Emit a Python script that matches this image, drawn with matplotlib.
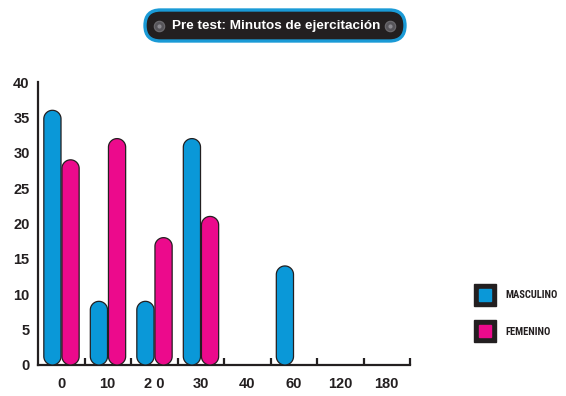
import matplotlib
matplotlib.use("Agg")
import matplotlib.pyplot as plt
from matplotlib.patches import FancyBboxPatch, Polygon
from matplotlib.lines import Line2D
import numpy as np

categories = ["0", "10", "2 0", "30", "40", "60", "120", "180"]
masculino = [36, 9, 9, 32, 0, 14, 0, 0]
femenino = [29, 32, 18, 21, 0, 0, 0, 0]
yticks = [0, 5, 10, 15, 20, 25, 30, 35, 40]
title = "Pre test: Minutos de ejercitación"
series_names = ["MASCULINO", "FEMENINO"]

BLUE = "#0a98d8"
PINK = "#ec0a8c"
DARK = "#231f20"

W, H = 566, 396
fig = plt.figure(figsize=(W / 100, H / 100), dpi=100)
fig.patch.set_facecolor("white")

ax_l, ax_r, ax_t, ax_b = 38, 410, 82, 365
ax = fig.add_axes([ax_l / W, 1 - ax_b / H, (ax_r - ax_l) / W, (ax_b - ax_t) / H])
ax.set_xlim(0, len(categories))
ax.set_ylim(0, 40)

px_x = (ax_r - ax_l) / len(categories)
px_y = (ax_b - ax_t) / 40.0
aspect = px_x / px_y

x = np.arange(len(categories))
bw = 0.37
b1 = ax.bar(x + 0.31, masculino, width=bw, color=BLUE)
b2 = ax.bar(x + 0.70, femenino, width=bw, color=PINK)


def pill(rect, col):
    x0, y0 = rect.get_x(), rect.get_y()
    w, h = rect.get_width(), rect.get_height()
    rx = w / 2.0
    ry = rx * aspect
    cx = x0 + rx
    t_top = np.linspace(0, np.pi, 40)
    t_bot = np.linspace(np.pi, 2 * np.pi, 40)
    top = np.column_stack([cx + rx * np.cos(t_top), y0 + h - ry + ry * np.sin(t_top)])
    bot = np.column_stack([cx + rx * np.cos(t_bot), y0 + ry + ry * np.sin(t_bot)])
    return Polygon(np.vstack([top, bot]), closed=True, facecolor=col,
                   edgecolor=DARK, linewidth=0.9, zorder=3, clip_on=False)


for bars, col in ((b1, BLUE), (b2, PINK)):
    for r in bars:
        r.set_visible(False)
        if r.get_height() <= 0:
            continue
        ax.add_patch(pill(r, col))

for s in ("top", "right"):
    ax.spines[s].set_visible(False)
for s in ("left", "bottom"):
    ax.spines[s].set_linewidth(1.6)
    ax.spines[s].set_color(DARK)

tick_font = dict(family=["Liberation Sans", "DejaVu Sans"], weight="bold", size=10.5)
ax.set_yticks(yticks)
ax.set_yticklabels([str(v) for v in yticks], **tick_font, color=DARK)
ax.tick_params(axis="y", which="major", length=0, pad=6)
ax.set_yticks([40], minor=True)
ax.tick_params(axis="y", which="minor", length=7.5, width=1.6, direction="in", color=DARK)

ax.set_xticks(np.arange(1, len(categories) + 1))
ax.set_xticklabels([])
ax.tick_params(axis="x", which="major", length=5, width=1.6, direction="in", color=DARK)
ax.set_xticks(x + 0.5, minor=True)
ax.set_xticklabels(categories, minor=True, **tick_font, color=DARK)
ax.tick_params(axis="x", which="minor", length=0, pad=9)

# legend
handles = [
    (Line2D([], [], ls="none", marker="s", ms=16.5, mfc=DARK, mec=DARK),
     Line2D([], [], ls="none", marker="s", ms=8, mfc=BLUE, mec=BLUE)),
    (Line2D([], [], ls="none", marker="s", ms=16.5, mfc=DARK, mec=DARK),
     Line2D([], [], ls="none", marker="s", ms=8, mfc=PINK, mec=PINK)),
]
leg = fig.legend(handles, series_names, loc="center left",
                 bbox_to_anchor=(474 / W, 1 - 313.5 / H), frameon=False,
                 borderpad=0, borderaxespad=0, handlelength=2.0, handletextpad=1.0,
                 labelspacing=2.5, numpoints=1,
                 prop=dict(family=["Roboto Condensed", "Liberation Sans"],
                           stretch="condensed", weight="bold", size=7.6))
for t in leg.get_texts():
    t.set_color(DARK)

# title pill
tx0, ty0, tw, th = 145, 10, 260, 31
pillbox = FancyBboxPatch((tx0 / W, 1 - (ty0 + th) / H), tw / W, th / H,
                         boxstyle=f"round,pad=0,rounding_size={th / 2 / W}",
                         mutation_aspect=W / H, transform=fig.transFigure,
                         facecolor=DARK, edgecolor="#1a9ad6", linewidth=2.4)
fig.add_artist(pillbox)
for dx in (159, 390):
    fig.add_artist(Line2D([dx / W], [1 - 25.5 / H], transform=fig.transFigure,
                          marker="o", ms=7.5, mfc="#57555a", mec="#6e6c70", mew=0.8,
                          ls="none"))
    fig.add_artist(Line2D([dx / W], [1 - 25.5 / H], transform=fig.transFigure,
                          marker="o", ms=3, mfc="#8c8a90", mec="none",
                          ls="none"))
fig.text(276.5 / W, 1 - 25.5 / H, title, ha="center", va="center", color="white",
         family=["Liberation Sans", "DejaVu Sans"], weight="bold", size=9.7)

fig.savefig("out.png", dpi=100)
